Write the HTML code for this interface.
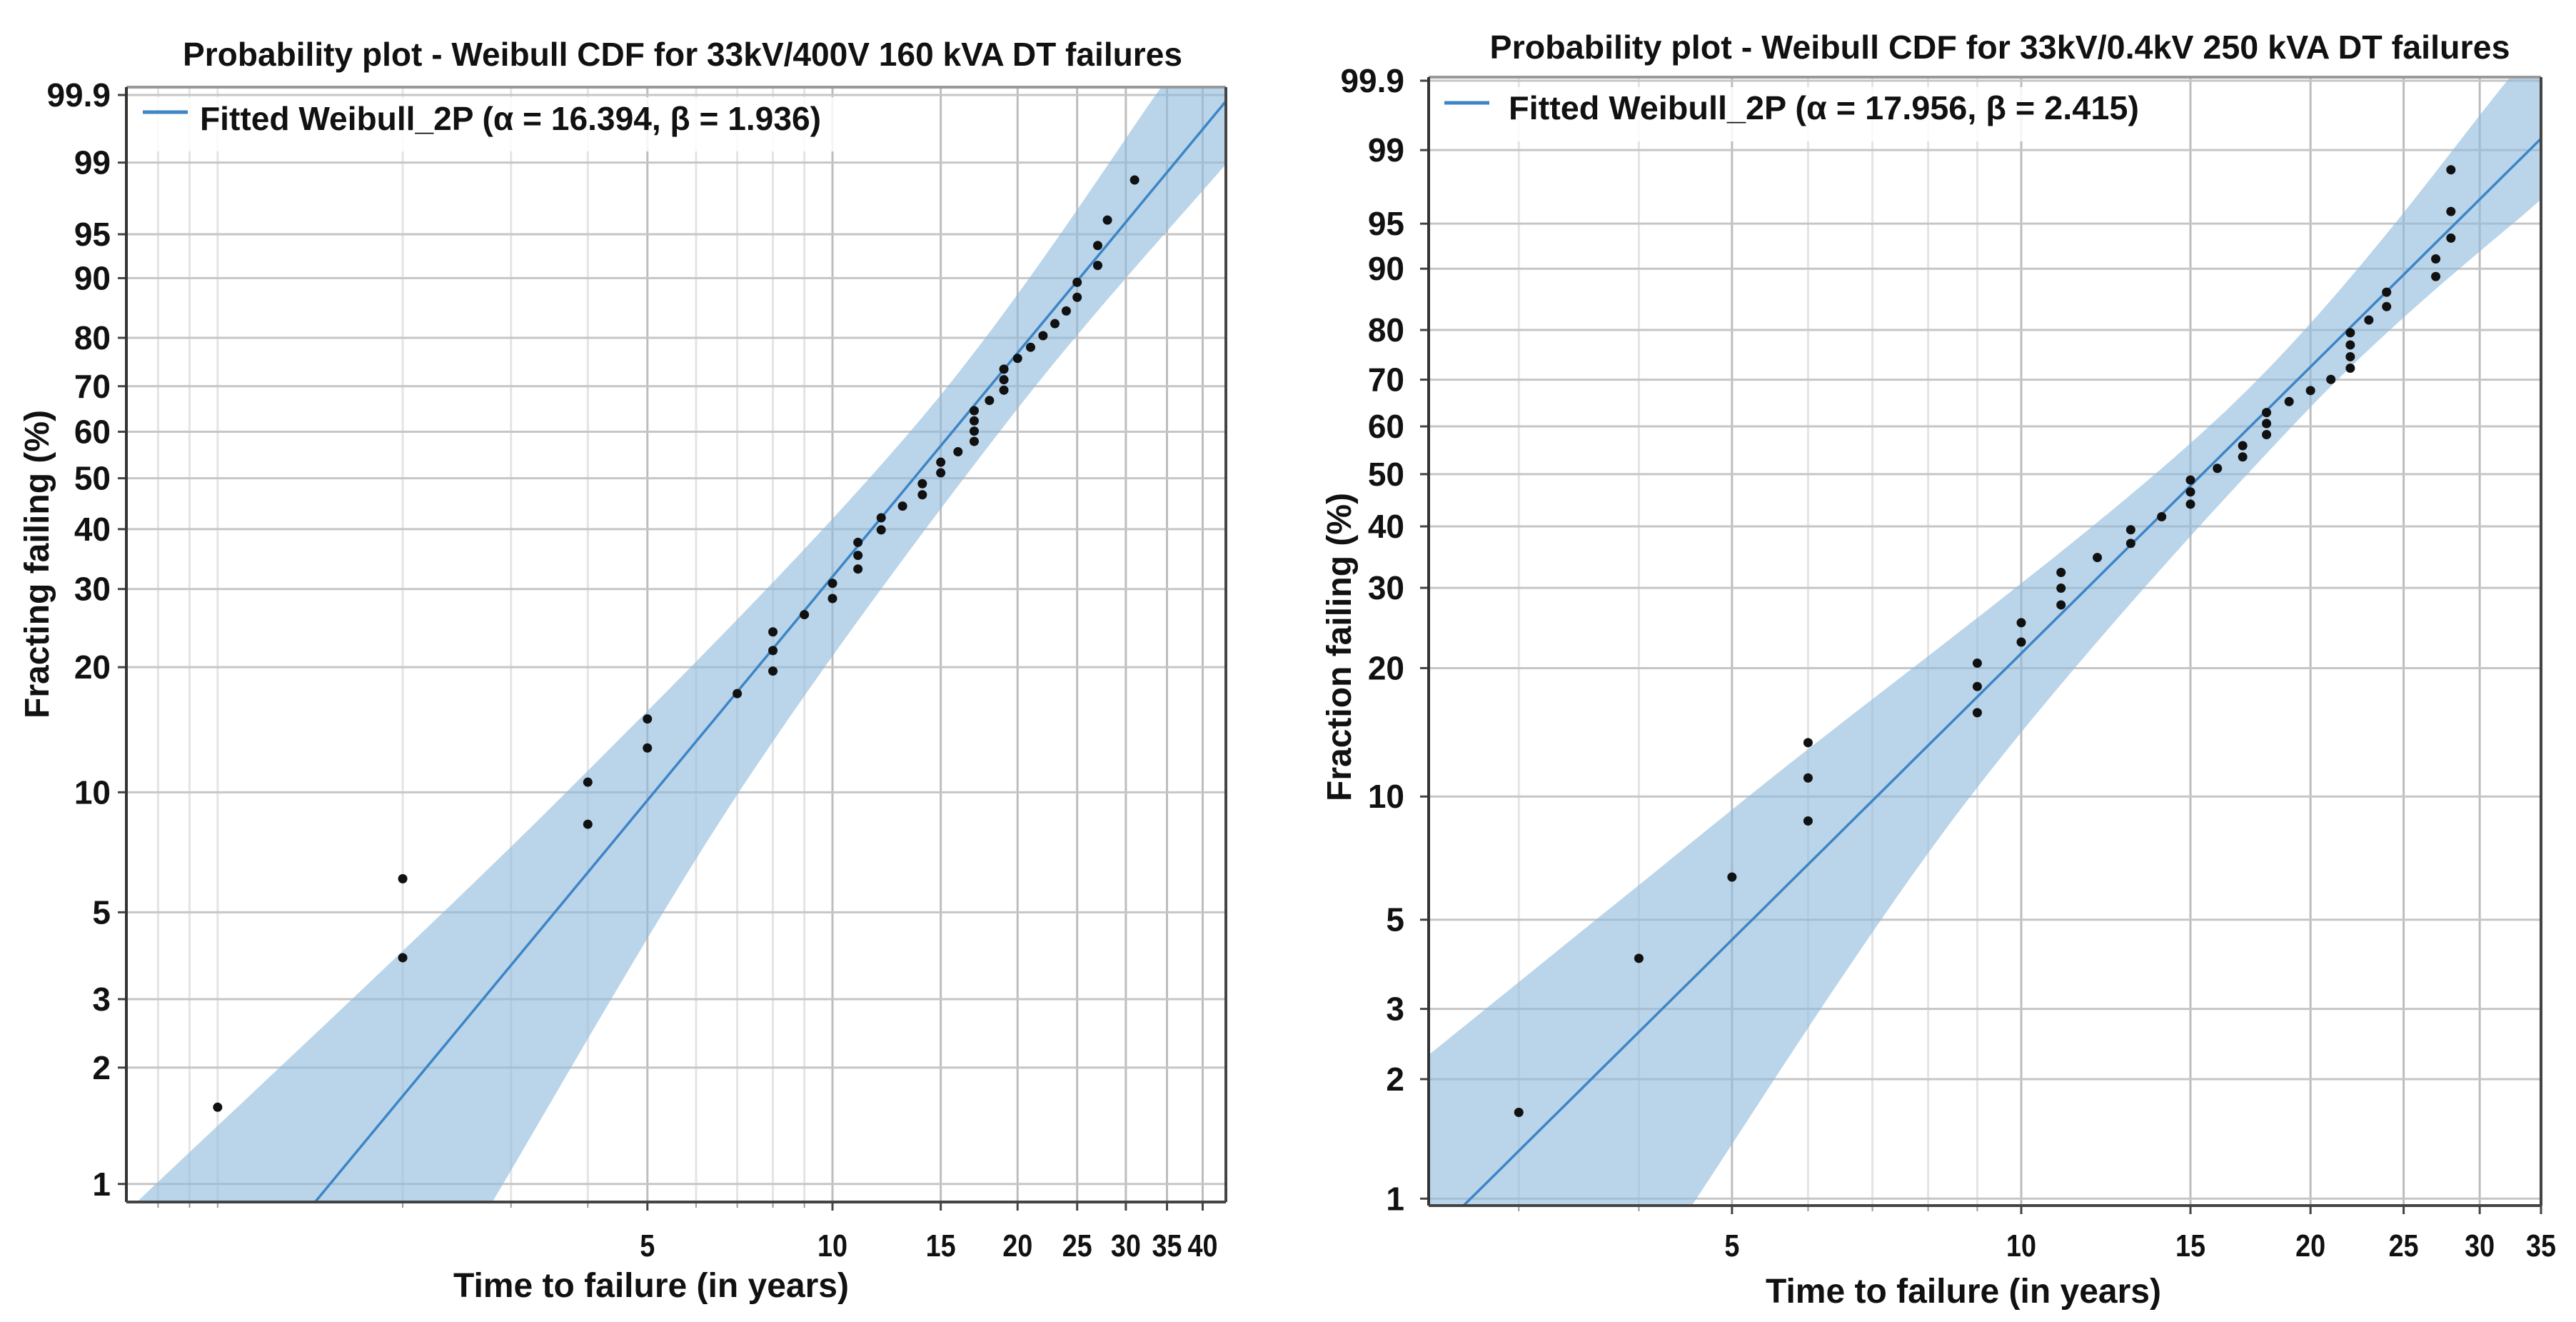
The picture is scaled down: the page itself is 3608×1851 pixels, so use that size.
<!DOCTYPE html>
<html><head><meta charset="utf-8">
<style>
html,body{margin:0;padding:0;background:#fff;width:3608px;height:1851px;overflow:hidden;}
svg{display:block;overflow:hidden;font-family:"Liberation Sans",Arial,sans-serif;}
</style></head>
<body>
<svg id="root" width="3608" height="1851" viewBox="0 0 3608 1851" xmlns="http://www.w3.org/2000/svg"></svg>
<script>
// ---------- Left chart data ----------
const leftTimes = [1,2,2,4,4,5,5,7,8,8,8,9,10,10,11,11,11,12,12,13,14,14,15,15,16,17,17,17,17,18,19,19,19,20,21,22,23,24,25,25,27,27,28,31];
const leftPct = [1.58,3.83,6.08,8.33,10.59,12.84,15.09,17.34,19.59,21.85,24.10,26.35,28.60,30.86,33.11,35.36,37.61,39.86,42.12,44.37,46.62,48.87,51.13,53.38,55.63,57.88,60.14,62.39,64.64,66.89,69.14,71.40,73.65,75.90,78.15,80.41,82.66,84.91,87.16,89.41,91.67,93.92,96.17,98.42];
const leftAlpha = 16.394;
const leftBeta = 1.936;
const leftBandLoT = [0.74,3.69,14.0,34.3];
const leftBandLoP = [0.9,10,63.2,99.93];
const leftBandHiT = [2.80,7.04,19.5,43.6];
const leftBandHiP = [0.9,10,63.2,98.95];
const leftXTicks = [5,10,15,20,25,30,35,40];
const leftXMinor = [0.8,0.9,1,2,3,4,6,7,8,9];
// ---------- Right chart data ----------
const rightTimes = [3,4,5,6,6,6,9,9,9,10,10,11,11,11,12,13,13,14,15,15,15,16,17,17,18,18,18,19,20,21,22,22,22,22,23,24,24,27,27,28,28,28];
const rightPct = [1.65,4.01,6.37,8.73,11.08,13.44,15.80,18.16,20.52,22.88,25.24,27.59,29.95,32.31,34.67,37.03,39.39,41.75,44.10,46.46,48.82,51.18,53.54,55.90,58.25,60.61,62.97,65.33,67.69,70.05,72.41,74.76,77.12,79.48,81.84,84.20,86.56,88.92,91.27,93.63,95.99,98.35];
const rightAlpha = 17.956;
const rightBeta = 2.415;
const rightBandLoT = [2.417,5.2,16.3,32.4];
const rightBandLoP = [2.3,10,63.2,99.92];
const rightBandHiT = [4.46,8.85,19.8,34.7];
const rightBandHiP = [0.9,10,63.2,96.8];
const rightXTicks = [5,10,15,20,25,30,35];
const rightXMinor = [3,4,6,7,8,9];
// ---------- shared ----------
const yTicks = [1,2,3,5,10,20,30,40,50,60,70,80,90,95,99,99.9];

const NS = "http://www.w3.org/2000/svg";
const root = document.getElementById('root');
function mk(tag, attrs, parent){
  const e = document.createElementNS(NS, tag);
  for (const k in attrs) e.setAttribute(k, attrs[k]);
  (parent||root).appendChild(e);
  return e;
}
function zf(p){ return Math.log(-Math.log(1 - p/100)); }
function spline(P){
  const out = [];
  for (let i=0;i<P.length-1;i++){
    const p0 = P[Math.max(0,i-1)], p1 = P[i], p2 = P[i+1], p3 = P[Math.min(P.length-1,i+2)];
    for (let s=0;s<16;s++){
      const t = s/16, t2=t*t, t3=t2*t;
      const f = (a,b,c,d)=>0.5*((2*b)+(-a+c)*t+(2*a-5*b+4*c-d)*t2+(-a+3*b-3*c+d)*t3);
      out.push([f(p0[0],p1[0],p2[0],p3[0]), f(p0[1],p1[1],p2[1],p3[1])]);
    }
  }
  out.push(P[P.length-1]);
  const n = P.length;
  const a = P[0], b = P[1], c = P[n-1], d = P[n-2];
  out.unshift([a[0]+(a[0]-b[0])*0.3, a[1]+(a[1]-b[1])*0.3]);
  out.push([c[0]+(c[0]-d[0])*0.3, c[1]+(c[1]-d[1])*0.3]);
  return out;
}

function chart(cfg){
  const g = mk('g', {});
  
  
  const xs = t => cfg.x10 + cfg.k*Math.log(t/10);
  const ys = p => cfg.yTop + (zf(99.9) - zf(p))*cfg.s;
  const L = cfg.left, R = cfg.right, T = cfg.top, B = cfg.bottom;
  const clipId = 'clip-' + cfg.name;
  const cp = mk('clipPath', {id: clipId}, g);
  mk('rect', {x:L, y:T, width:R-L, height:B-T}, cp);

  cfg.xMinor.forEach(t => {
    const x = xs(t);
    if (x <= L || x >= R) return;
    const l = mk('line', {x1:x, y1:T, x2:x, y2:B, stroke:'#e4e4e4', 'stroke-width':3}, g);
    
    
    mk('line', {x1:x, y1:B, x2:x, y2:B+8, stroke:'#999', 'stroke-width':2}, g);
  });
  cfg.xTicks.forEach(t => {
    const x = xs(t);
    if (x < L-1 || x > R+8) return;
    const xx = Math.min(x, R);
    const l = mk('line', {x1:xx, y1:T, x2:xx, y2:B, stroke:'#bdbdbd', 'stroke-width':3}, g);
    
    
    mk('line', {x1:xx, y1:B, x2:xx, y2:B+12, stroke:'#444', 'stroke-width':3}, g);
    const tx = mk('text', {x:xx, y:cfg.xLabY, 'text-anchor':'middle', 'font-size':44, 'font-weight':'bold', fill:'#111', textLength:(String(t).length*21), lengthAdjust:'spacingAndGlyphs'}, g);
    tx.textContent = String(t);
    
    
  });
  yTicks.forEach(p => {
    const y = ys(p);
    const l = mk('line', {x1:L, y1:y, x2:R, y2:y, stroke:'#c6c6c6', 'stroke-width':3}, g);
    
    
    mk('line', {x1:L-12, y1:y, x2:L, y2:y, stroke:'#444', 'stroke-width':3}, g);
    const tx = mk('text', {x:cfg.yLabX, y:y+16, 'text-anchor':'end', 'font-size':46, 'font-weight':'bold', fill:'#111'}, g);
    tx.textContent = String(p);
    
    
  });
  const lo = [], hi = [];
  for (let i=0;i<cfg.loT.length;i++) lo.push([xs(cfg.loT[i]), ys(cfg.loP[i])]);
  for (let i=0;i<cfg.hiT.length;i++) hi.push([xs(cfg.hiT[i]), ys(cfg.hiP[i])]);
  const pts = spline(lo).concat(spline(hi).reverse()).map(q => q[0].toFixed(1)+','+q[1].toFixed(1));
  const band = mk('polygon', {points: pts.join(' '), fill:'#8fbbdd', 'fill-opacity':0.62, 'clip-path':'url(#'+clipId+')'}, g);
  
  
  const lp = [];
  for (let i=0;i<=60;i++){
    const z = -4.75 + i*(6.8/60);
    const t = cfg.alpha*Math.exp(z/cfg.beta);
    lp.push(xs(t).toFixed(1)+','+(cfg.yTop + (zf(99.9)-z)*cfg.s).toFixed(1));
  }
  const fl = mk('polyline', {points: lp.join(' '), fill:'none', stroke:'#3d85c6', 'stroke-width':3.5, 'clip-path':'url(#'+clipId+')'}, g);
  
  
  cfg.times.forEach((t,i) => {
    const c = mk('circle', {cx:xs(t), cy:ys(cfg.pct[i]), r:6.5, fill:'#111'}, g);
    
    
  });
  mk('line', {x1:L, y1:T, x2:R, y2:T, stroke:'#999', 'stroke-width':4}, g);
  mk('line', {x1:R, y1:T, x2:R, y2:B, stroke:'#444', 'stroke-width':4}, g);
  mk('line', {x1:L, y1:T, x2:L, y2:B, stroke:'#333', 'stroke-width':4}, g);
  mk('line', {x1:L, y1:B, x2:R, y2:B, stroke:'#444', 'stroke-width':4}, g);
  const lb = mk('rect', {x:L+14, y:T+14, width:cfg.legW, height:76, fill:'#fff', 'fill-opacity':0.85}, g);
  
  
  const ll = mk('line', {x1:cfg.legX1, y1:cfg.legY, x2:cfg.legX1+63, y2:cfg.legY, stroke:'#3d85c6', 'stroke-width':5}, g);
  
  
  const lt = mk('text', {x:cfg.legTX, y:cfg.legTY, 'font-size':46, 'font-weight':'bold', fill:'#111', textLength:cfg.legTW, lengthAdjust:'spacingAndGlyphs'}, g);
  lt.textContent = cfg.legText;
  
  
  const ti = mk('text', {x:cfg.titleX, y:cfg.titleY, 'text-anchor':'middle', 'font-size':46, 'font-weight':'bold', fill:'#111', textLength:cfg.titleW, lengthAdjust:'spacingAndGlyphs'}, g);
  ti.textContent = cfg.title;
  
  
  const xt = mk('text', {x:cfg.xTitleX, y:cfg.xTitleY, 'text-anchor':'middle', 'font-size':48, 'font-weight':'bold', fill:'#111'}, g);
  xt.textContent = 'Time to failure (in years)';
  
  
  const yt = mk('text', {x:0, y:0, 'text-anchor':'middle', 'font-size':48, 'font-weight':'bold', fill:'#111', transform:'translate('+cfg.yTitleX+','+cfg.yTitleY+') rotate(-90)'}, g);
  yt.textContent = cfg.yTitle;
  
  
}

chart({name:'left-chart', times:leftTimes, pct:leftPct, alpha:leftAlpha, beta:leftBeta,
  loT:leftBandLoT, loP:leftBandLoP, hiT:leftBandHiT, hiP:leftBandHiP, xTicks:leftXTicks, xMinor:leftXMinor,
  x10:1166, k:374, yTop:133, s:233.4, left:177, right:1717, top:122, bottom:1683,
  xLabY:1759, yLabX:155,
  legW:990, legX1:200, legY:157, legTX:280, legTY:182, legTW:870,
  legText:'Fitted Weibull_2P (\u03B1 = 16.394, \u03B2 = 1.936)',
  title:'Probability plot - Weibull CDF for 33kV/400V 160 kVA DT failures', titleX:956, titleY:92, titleW:1400,
  xTitleX:912, xTitleY:1816, yTitle:'Fracting failing (%)', yTitleX:68, yTitleY:790});

chart({name:'right-chart', times:rightTimes, pct:rightPct, alpha:rightAlpha, beta:rightBeta,
  loT:rightBandLoT, loP:rightBandLoP, hiT:rightBandHiT, hiP:rightBandHiP, xTicks:rightXTicks, xMinor:rightXMinor,
  x10:2831, k:584.5, yTop:113, s:239.6, left:2001, right:3559, top:108, bottom:1688,
  xLabY:1759, yLabX:1967,
  legW:1010, legX1:2023, legY:144, legTX:2113, legTY:167, legTW:883,
  legText:'Fitted Weibull_2P (\u03B1 = 17.956, \u03B2 = 2.415)',
  title:'Probability plot - Weibull CDF for 33kV/0.4kV 250 kVA DT failures', titleX:2801, titleY:82, titleW:1429,
  xTitleX:2750, xTitleY:1824, yTitle:'Fraction failing (%)', yTitleX:1892, yTitleY:906});
</script>
</body></html>
